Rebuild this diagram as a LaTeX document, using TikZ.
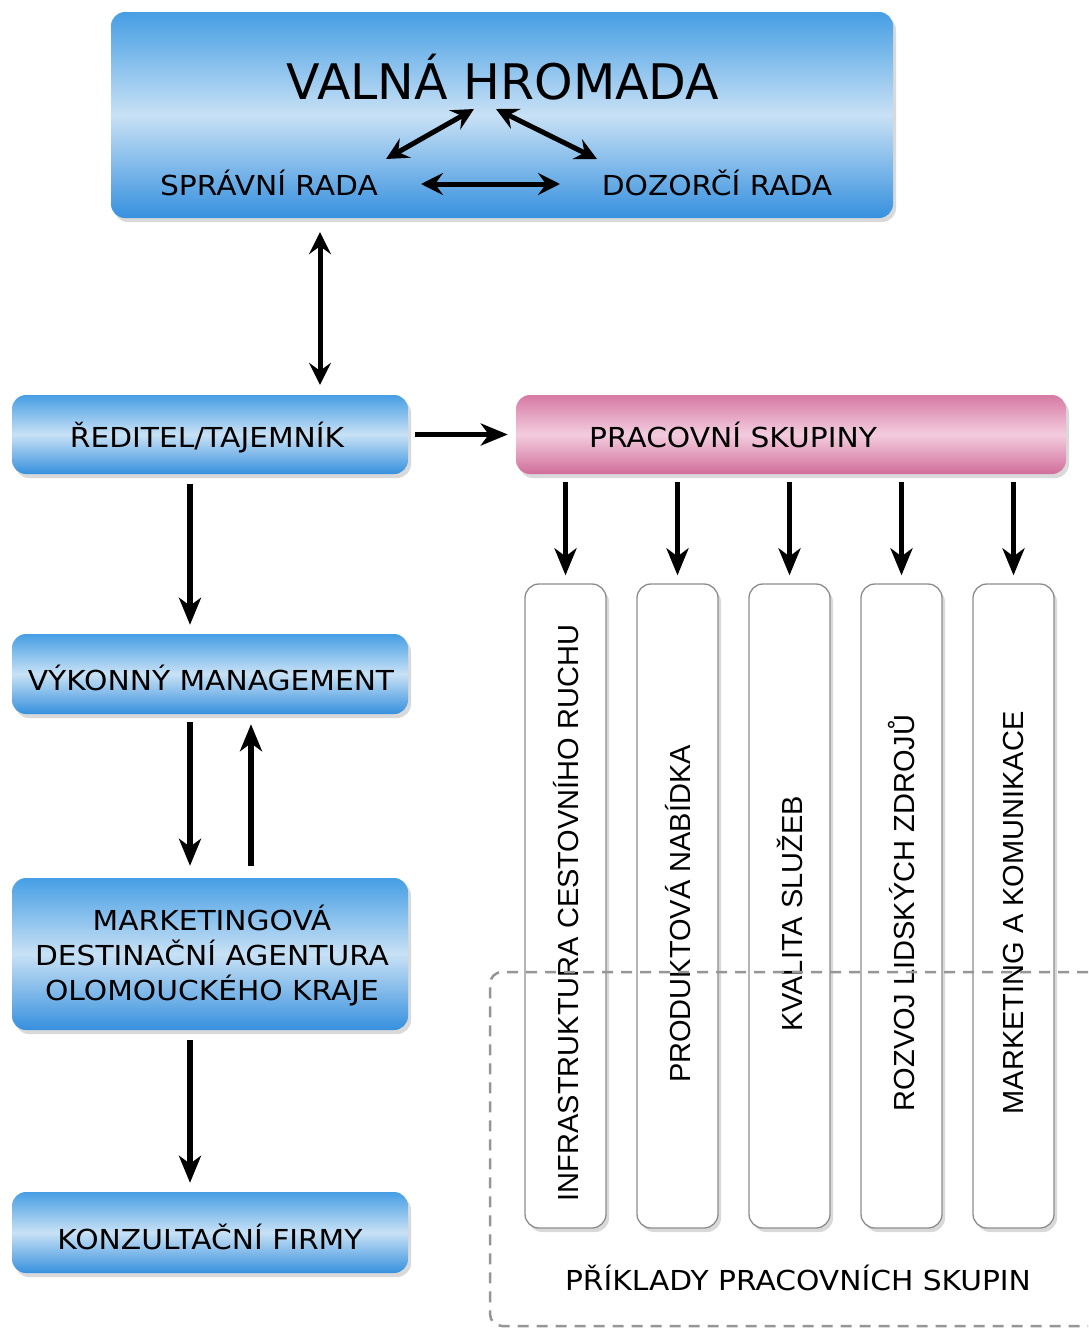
\documentclass[tikz,border=0pt]{standalone}
\usepackage{fontspec}
\setmainfont{DejaVu Sans}[FakeStretch=1.08]
\newfontfamily\plainfont{DejaVu Sans}
\newfontfamily\colfont{Liberation Sans}
\usetikzlibrary{shadows,arrows.meta}
\definecolor{bTop}{RGB}{70,158,228}
\definecolor{bMid}{RGB}{200,225,245}
\definecolor{bBot}{RGB}{54,144,222}
\definecolor{pTop}{RGB}{214,122,164}
\definecolor{pMid}{RGB}{243,204,222}
\definecolor{pBot}{RGB}{208,110,154}
\definecolor{colline}{RGB}{140,140,140}
\definecolor{dashgray}{RGB}{150,150,150}
\begin{document}
\begin{tikzpicture}[x=1pt,y=-1pt,
  shadowed/.style={drop shadow={opacity=0.3,shadow xshift=3pt,shadow yshift=-4pt}},
  bluebox/.style={rounded corners=14pt, top color=bTop, bottom color=bBot, middle color=bMid, draw=none, inner sep=0pt, shadowed},
  pinkbox/.style={rounded corners=14pt, top color=pTop, bottom color=pBot, middle color=pMid, draw=none, inner sep=0pt, shadowed},
  colbox/.style={rounded corners=14pt, draw=colline, line width=1.3pt, fill=white, minimum width=81pt, minimum height=644pt, inner sep=0pt, shadowed},
  lbl/.style={font=\fontsize{27.5}{33}\selectfont, text=black, inner sep=0pt},
  coltxt/.style={font=\colfont\fontsize{29}{34}\selectfont, rotate=90, inner sep=0pt},
  arr/.style={line width=5.5pt, -{Stealth[length=27pt,width=22pt,inset=8pt]}},
  darr/.style={line width=5pt, {Stealth[length=22pt,width=22pt,inset=8pt]}-{Stealth[length=22pt,width=22pt,inset=8pt]}},
  dashbox/.style={draw=dashgray, line width=2.5pt, dash pattern=on 11pt off 8pt, rounded corners=12pt}
]
\useasboundingbox (0,0) rectangle (1088,1328);

% top box
\node[bluebox, minimum width=782pt, minimum height=206pt] (vh) at (502,115) {};
\node[lbl, font=\plainfont\fontsize{49}{56}\selectfont] (vht) at (503,77) {VALNÁ HROMADA};
\node[lbl] (sr) at (269,183) {SPRÁVNÍ RADA};
\node[lbl] (dr) at (717,183) {DOZORČÍ RADA};
\coordinate (a1) at (386,159);
\coordinate (a2) at (474,109);
\coordinate (a3) at (496,109);
\coordinate (a4) at (597,159);
\coordinate (a5) at (421,184);
\coordinate (a6) at (560,184);
\draw[darr] (a1) -- (a2);
\draw[darr] (a3) -- (a4);
\draw[darr] (a5) -- (a6);

% left column
\node[bluebox, minimum width=396pt, minimum height=79pt] (rd) at (210,434.5) {};
\node[lbl] (rdt) at (207,437) {ŘEDITEL/TAJEMNÍK};
\node[bluebox, minimum width=396pt, minimum height=80pt] (vm) at (210,674) {};
\node[lbl] (vmt) at (211,678) {VÝKONNÝ MANAGEMENT};
\node[bluebox, minimum width=396pt, minimum height=152pt] (md) at (210,954) {};
\node[lbl, align=center, font=\fontsize{27.5}{35}\selectfont] (mdt) at (212,955) {MARKETINGOVÁ\\DESTINAČNÍ AGENTURA\\OLOMOUCKÉHO KRAJE};
\node[bluebox, minimum width=396pt, minimum height=81pt] (kf) at (210,1232.5) {};
\node[lbl] (kft) at (210,1237) {KONZULTAČNÍ FIRMY};

% pink box
\node[pinkbox, minimum width=550pt, minimum height=79pt] (pg) at (791,434.5) {};
\node[lbl] (pgt) at (733,435) {PRACOVNÍ SKUPINY};

% connectors left
\draw[darr, shorten <=14pt, shorten >=10pt] ([xshift=110pt]rd.north |- vh.south) -- ([xshift=110pt]rd.north);
\draw[arr, shorten <=7pt, shorten >=8pt] (rd.east) -- (pg.west);
\draw[arr, shorten <=10pt, shorten >=9pt] ([xshift=-20pt]rd.south) -- ([xshift=-20pt]vm.north);
\draw[arr, shorten <=8pt, shorten >=12pt] ([xshift=-20pt]vm.south) -- ([xshift=-20pt]md.north);
\draw[arr, shorten <=12pt, shorten >=10pt] ([xshift=41pt]md.north) -- ([xshift=41pt]vm.south);
\draw[arr, shorten <=10pt, shorten >=9pt] ([xshift=-20pt]md.south) -- ([xshift=-20pt]kf.north);

% columns
\node[colbox] (c1) at (565.5,906) {};
\node[colbox] (c2) at (677.5,906) {};
\node[colbox] (c3) at (789.5,906) {};
\node[colbox] (c4) at (901.5,906) {};
\node[colbox] (c5) at (1013.5,906) {};
\node[coltxt] (t1) at (566,913) {INFRASTRUKTURA CESTOVNÍHO RUCHU};
\node[coltxt] (t2) at (678,914) {PRODUKTOVÁ NABÍDKA};
\node[coltxt] (t3) at (790,914) {KVALITA SLUŽEB};
\node[coltxt] (t4) at (902,913) {ROZVOJ LIDSKÝCH ZDROJŮ};
\node[coltxt] (t5) at (1014,913) {MARKETING A KOMUNIKACE};

\foreach \c in {c1,c2,c3,c4,c5}{
  \draw[arr, shorten <=8pt, shorten >=8pt] (\c.north |- pg.south) -- (\c.north);
}

% dashed region
\coordinate (d1) at (1088,972);
\coordinate (d2) at (490,1326);
\coordinate (d3) at (1088,1326);
\draw[dashbox] (d1) -| (d2) -- (d3);
\node[lbl] (pps) at (798,1278) {PŘÍKLADY PRACOVNÍCH SKUPIN};
\end{tikzpicture}
\end{document}
